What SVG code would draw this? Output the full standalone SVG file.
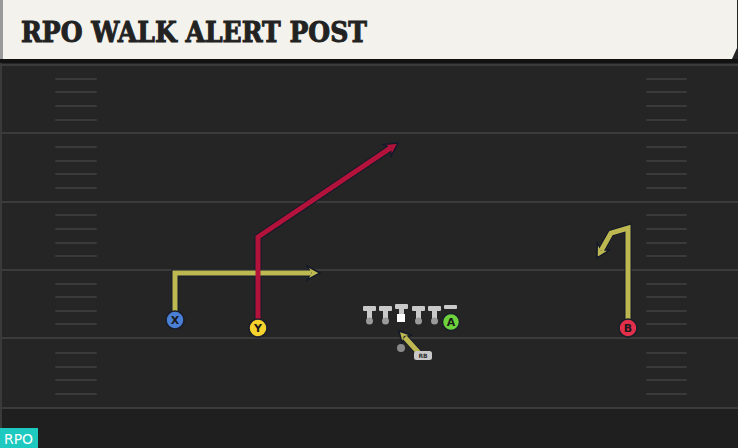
<svg xmlns="http://www.w3.org/2000/svg" width="738" height="448" viewBox="0 0 738 448">
<style>
.yard{stroke:#3b3b3b;stroke-width:2}
.hash{stroke:#3a3a3a;stroke-width:2;stroke-linecap:round}
.out{fill:none;stroke:#141a2a;stroke-width:7;stroke-linejoin:miter}
.olive{fill:none;stroke:#bdb950;stroke-width:5;stroke-linejoin:miter}
.red{fill:none;stroke:#b3123a;stroke-width:5;stroke-linejoin:miter}
.hO{fill:#bdb950;stroke:#141a2a;stroke-width:1.5;stroke-linejoin:miter}
.hR{fill:#b3123a;stroke:#141a2a;stroke-width:1.5;stroke-linejoin:miter}
.lbl{font-family:"DejaVu Sans",sans-serif;font-weight:bold;font-size:11px;fill:#1a1a1a;text-anchor:middle}
.pl{stroke:#1a1e2a;stroke-width:1.5}
.tbar{fill:#c9c9c9}
.ball{fill:#9a9a9a}
</style>
<rect x="0" y="0" width="738" height="448" fill="#252525"/>
<rect x="0" y="408" width="738" height="40" fill="#1f1f1f"/>
<rect x="0" y="60" width="2" height="388" fill="#3a3a3a"/>
<g id="field">
<line class="yard" x1="0" y1="65" x2="738" y2="65"/>
<line class="yard" x1="0" y1="133" x2="738" y2="133"/>
<line class="yard" x1="0" y1="202" x2="738" y2="202"/>
<line class="yard" x1="0" y1="270" x2="738" y2="270"/>
<line class="yard" x1="0" y1="338" x2="738" y2="338"/>
<line class="yard" x1="0" y1="408" x2="738" y2="408"/>
<g>
<line class="hash" x1="56" y1="79" x2="96" y2="79"/><line class="hash" x1="56" y1="92" x2="96" y2="92"/><line class="hash" x1="56" y1="106" x2="96" y2="106"/><line class="hash" x1="56" y1="120" x2="96" y2="120"/>
<line class="hash" x1="56" y1="147" x2="96" y2="147"/><line class="hash" x1="56" y1="161" x2="96" y2="161"/><line class="hash" x1="56" y1="174" x2="96" y2="174"/><line class="hash" x1="56" y1="188" x2="96" y2="188"/>
<line class="hash" x1="56" y1="215" x2="96" y2="215"/><line class="hash" x1="56" y1="229" x2="96" y2="229"/><line class="hash" x1="56" y1="243" x2="96" y2="243"/><line class="hash" x1="56" y1="256" x2="96" y2="256"/>
<line class="hash" x1="56" y1="284" x2="96" y2="284"/><line class="hash" x1="56" y1="297" x2="96" y2="297"/><line class="hash" x1="56" y1="311" x2="96" y2="311"/><line class="hash" x1="56" y1="324" x2="96" y2="324"/>
<line class="hash" x1="56" y1="353" x2="96" y2="353"/><line class="hash" x1="56" y1="367" x2="96" y2="367"/><line class="hash" x1="56" y1="380" x2="96" y2="380"/><line class="hash" x1="56" y1="394" x2="96" y2="394"/>
</g>
<g>
<line class="hash" x1="647" y1="79" x2="686" y2="79"/><line class="hash" x1="647" y1="92" x2="686" y2="92"/><line class="hash" x1="647" y1="106" x2="686" y2="106"/><line class="hash" x1="647" y1="120" x2="686" y2="120"/>
<line class="hash" x1="647" y1="147" x2="686" y2="147"/><line class="hash" x1="647" y1="161" x2="686" y2="161"/><line class="hash" x1="647" y1="174" x2="686" y2="174"/><line class="hash" x1="647" y1="188" x2="686" y2="188"/>
<line class="hash" x1="647" y1="215" x2="686" y2="215"/><line class="hash" x1="647" y1="229" x2="686" y2="229"/><line class="hash" x1="647" y1="243" x2="686" y2="243"/><line class="hash" x1="647" y1="256" x2="686" y2="256"/>
<line class="hash" x1="647" y1="284" x2="686" y2="284"/><line class="hash" x1="647" y1="297" x2="686" y2="297"/><line class="hash" x1="647" y1="311" x2="686" y2="311"/><line class="hash" x1="647" y1="324" x2="686" y2="324"/>
<line class="hash" x1="647" y1="353" x2="686" y2="353"/><line class="hash" x1="647" y1="367" x2="686" y2="367"/><line class="hash" x1="647" y1="380" x2="686" y2="380"/><line class="hash" x1="647" y1="394" x2="686" y2="394"/>
</g>
</g>
<g id="header">
<rect x="0" y="59" width="738" height="4" fill="#121212"/>
<rect x="0" y="0" width="3" height="59" fill="#9a9a9a"/>
<polygon points="3,0 737,0 737,48 732,59 3,59" fill="#f4f2ec"/>
<text x="21" y="42" font-family="DejaVu Serif,serif" font-weight="bold" font-size="28" fill="#222" stroke="#222" stroke-width="1" textLength="346" lengthAdjust="spacingAndGlyphs">RPO WALK ALERT POST</text>
</g>
<g id="connectors">
<path class="out" d="M175,320 L175,273 L311,273"/>
<path class="out" d="M258,328 L258,237 L390.5,148"/>
<path class="out" d="M628,328 L628,228 L611,233 L601.4,250.1"/>
<path class="out" d="M419,353 L404.4,336.9"/>
<polygon class="hO" points="320,273 307,266 311,273 307,280"/>
<polygon class="hR" points="398,143 383.3,144.4 390.5,148 391.1,156.1"/>
<polygon class="hO" points="597,258 597.2,243.2 601.4,250.1 609.5,250.1"/>
<polygon class="hO" points="399,331 402,343.2 404.4,336.9 410.9,335.1"/>
<path class="olive" d="M175,320 L175,273 L311.5,273"/>
<path class="red" d="M258,328 L258,237 L391,147.7"/>
<path class="olive" d="M628,328 L628,228 L611,233 L601.2,250.5"/>
<path class="olive" d="M419,353 L404.7,337.3"/>
</g>
<g id="line">
<g><rect class="tbar" x="363" y="306" width="13" height="5" rx="1"/><rect class="tbar" x="367" y="309" width="5" height="10"/><circle class="ball" cx="369.5" cy="321" r="3.5"/></g>
<g><rect class="tbar" x="379" y="306" width="13" height="5" rx="1"/><rect class="tbar" x="383" y="309" width="5" height="10"/><circle class="ball" cx="385.5" cy="321" r="3.5"/></g>
<g><rect class="tbar" x="395" y="304" width="13" height="5" rx="1"/><rect class="tbar" x="399" y="307" width="5" height="8"/><rect x="397" y="314" width="8" height="8" fill="#ffffff"/></g>
<g><rect class="tbar" x="412" y="306" width="13" height="5" rx="1"/><rect class="tbar" x="416" y="309" width="5" height="10"/><circle class="ball" cx="418.5" cy="321" r="3.5"/></g>
<g><rect class="tbar" x="428" y="306" width="13" height="5" rx="1"/><rect class="tbar" x="432" y="309" width="5" height="10"/><circle class="ball" cx="434.5" cy="321" r="3.5"/></g>
</g>
<g id="A"><rect class="tbar" x="444" y="305" width="13" height="4" rx="1"/><circle class="pl" cx="451" cy="322" r="8.5" fill="#6dd23c"/><text class="lbl" x="451" y="326">A</text></g>
<g id="X"><circle class="pl" cx="175" cy="320" r="9" fill="#4a7fd6"/><text class="lbl" x="175" y="324">X</text></g>
<g id="Y"><circle class="pl" cx="258" cy="328" r="9" fill="#f5d22c"/><text class="lbl" x="258" y="332">Y</text></g>
<g id="B"><circle class="pl" cx="628" cy="328" r="9" fill="#e2304b"/><text class="lbl" x="628" y="332">B</text></g>
<g id="RB"><circle cx="401" cy="348" r="4" fill="#8a8a8a"/><rect x="414" y="351" width="18" height="9" rx="2.5" fill="#c8c8c8"/><text x="423" y="358" font-family="DejaVu Sans,sans-serif" font-weight="bold" font-size="6" fill="#333" text-anchor="middle">RB</text></g>
<g id="badge"><rect x="0" y="428" width="38" height="20" fill="#1ec9bf"/><text x="4" y="444" font-family="DejaVu Sans,sans-serif" font-size="14" fill="#ffffff" textLength="29" lengthAdjust="spacingAndGlyphs">RPO</text></g>
</svg>
